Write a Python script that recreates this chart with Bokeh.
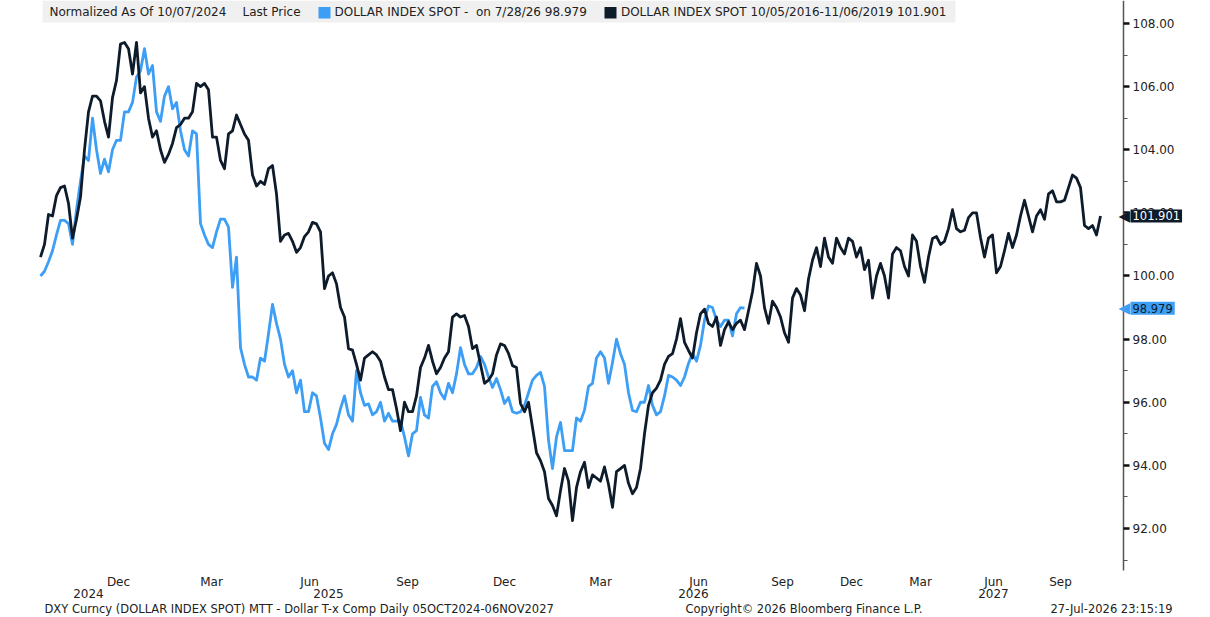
from bokeh.plotting import figure
from bokeh.models import Range1d, FixedTicker, LinearAxis, Label, BoxAnnotation, PrintfTickFormatter
from bokeh.embed import file_html
from bokeh.resources import INLINE

# ---- data (one value per chart step) ----
# DOLLAR INDEX SPOT 10/05/2016-11/06/2019, normalized
black_vals = [100.6, 101.0, 101.95, 101.9, 102.55, 102.8, 102.85, 102.3, 101.2, 101.8,
              102.5, 104.0, 105.2, 105.7, 105.7, 105.55, 104.9, 104.4, 105.65, 106.2,
              107.35, 107.4, 107.2, 106.4, 107.4, 105.8, 106.0, 105.0, 104.4, 104.6,
              104.0, 103.6, 103.85, 104.2, 104.7, 104.8, 105.0, 105.0, 105.2, 106.1,
              106.0, 106.1, 105.9, 104.4, 104.4, 103.66, 103.4, 104.5, 104.6, 105.1,
              104.8, 104.5, 104.3, 103.2, 102.85, 103.0, 102.9, 103.4, 103.5, 102.6,
              101.1, 101.3, 101.35, 101.1, 100.75, 100.9, 101.25, 101.4, 101.7, 101.65,
              101.4, 99.6, 100.0, 100.1, 99.75, 99.0, 98.7, 97.7, 97.65, 97.2,
              96.7, 97.4, 97.5, 97.6, 97.5, 97.3, 96.8, 96.4, 96.4, 95.8,
              95.1, 96.0, 95.7, 95.7, 96.2, 97.1, 97.4, 97.8, 97.3, 96.9,
              97.1, 97.4, 97.6, 98.7, 98.8, 98.7, 98.75, 98.4, 97.7, 97.8,
              97.2, 96.6, 96.7, 96.9, 97.5, 97.85, 97.8, 97.55, 97.16, 97.1,
              95.96, 95.7, 96.0, 95.2, 94.4, 94.15, 93.8, 92.95, 92.73, 92.4,
              93.2, 93.9, 93.5, 92.25, 93.3, 93.8, 94.1, 93.3, 93.7, 93.6,
              93.5, 93.95, 93.4, 92.67, 93.8, 93.9, 94.0, 93.43, 93.1, 93.3,
              93.9, 95.0, 95.9, 96.3, 96.45, 96.7, 97.2, 97.45, 97.54, 98.0,
              98.65, 97.9, 97.64, 97.4, 98.2, 98.8, 98.95, 98.5, 98.4, 98.7,
              97.8, 98.3, 98.55, 98.3, 98.5, 98.6, 98.3, 98.9, 99.5, 100.4,
              100.0, 99.0, 98.5, 99.2, 99.0, 98.7, 98.2, 97.9, 99.3, 99.6,
              99.4, 98.9, 99.9, 100.5, 100.9, 100.3, 101.2, 100.6, 100.4, 101.2,
              100.9, 100.7, 101.2, 101.1, 100.6, 100.9, 100.2, 100.5, 99.3, 100.0,
              100.4, 100.0, 99.3, 100.7, 100.9, 100.8, 100.3, 100.0, 101.3, 101.1,
              100.3, 99.8, 100.6, 101.19, 101.25, 101.0, 101.1, 101.5, 102.1, 101.5,
              101.4, 101.45, 101.85, 102.0, 102.0, 101.22, 100.6, 101.2, 101.3, 100.1,
              100.3, 100.8, 101.35, 100.9, 101.3, 101.9, 102.4, 101.9, 101.4, 101.9,
              102.1, 101.8, 102.6, 102.7, 102.35, 102.35, 102.4, 102.8, 103.2, 103.1,
              102.8, 101.6, 101.5, 101.6, 101.3, 101.901]
# DOLLAR INDEX SPOT (current), normalized as of 10/07/2024
blue_vals = [100.0, 100.15, 100.45, 100.8, 101.3, 101.76, 101.76, 101.66, 101.0, 102.1,
             103.0, 103.8, 103.66, 105.0, 104.0, 103.25, 103.7, 103.3, 104.0, 104.3,
             104.3, 105.2, 105.2, 105.5, 106.3, 106.5, 107.2, 106.4, 106.67, 105.2,
             104.9, 105.7, 106.0, 105.3, 105.5, 104.6, 104.0, 103.8, 104.6, 104.5,
             101.66, 101.3, 101.0, 100.9, 101.4, 101.8, 101.8, 101.55, 99.64, 100.6,
             97.73, 97.2, 96.8, 96.8, 96.7, 97.4, 97.3, 98.17, 99.1, 98.5,
             98.0, 97.2, 96.8, 97.0, 96.3, 96.7, 95.7, 95.7, 96.3, 96.2,
             95.5, 94.7, 94.5, 95.0, 95.3, 95.8, 96.2, 95.6, 95.4, 97.0,
             96.3, 95.9, 95.95, 95.6, 95.7, 96.0, 95.4, 95.65, 95.4, 95.4,
             95.4, 94.9, 94.3, 95.0, 95.1, 96.15, 95.6, 95.5, 96.5, 96.65,
             96.3, 96.1, 96.6, 96.3, 96.9, 97.73, 97.2, 96.9, 96.9, 97.1,
             97.45, 97.2, 96.8, 96.47, 96.75, 96.4, 95.96, 96.15, 95.7, 95.65,
             95.7, 95.9, 96.3, 96.7, 96.85, 96.95, 96.5, 94.8, 93.9, 94.9,
             95.36, 94.47, 94.47, 94.47, 95.5, 95.4, 95.75, 96.5, 96.6, 97.4,
             97.6, 97.4, 96.6, 97.26, 98.0, 97.54, 97.2, 96.3, 95.74, 95.7,
             96.0, 96.0, 96.53, 95.9, 95.6, 95.7, 96.2, 96.85, 96.8, 96.7,
             96.53, 96.8, 97.23, 97.55, 97.3, 97.8, 98.6, 99.05, 99.0, 98.6,
             98.4, 98.6, 98.6, 98.1, 98.8, 99.0, 98.979]
black_x = list(range(len(black_vals)))
blue_x = list(range(len(blue_vals)))

month_labels = ["Dec", "Mar", "Jun", "Sep", "Dec", "Mar", "Jun", "Sep", "Dec", "Mar", "Jun", "Sep"]
month_pos = [19.5, 42.75, 67.25, 91.75, 116.0, 140.0, 164.5, 185.5, 202.75, 220.0, 238.25, 255.0]
year_labels = ["2024", "2025", "2026", "2027"]
year_pos = [12.0, 72.0, 163.25, 238.25]
y_ticks = [92, 94, 96, 98, 100, 102, 104, 106, 108]
y_minor = [91, 93, 95, 97, 99, 101, 103, 105, 107]

BLUE = "#3d9ef5"
NAVY = "#0d1b2a"
FONT = "DejaVu Sans"
TXT = "#222222"

X0, X1 = -10.0, 292.5          # canvas span in step units
Y0, Y1 = 89.180, 108.7287      # canvas span in index units
Y_AXIS_X = 270.75              # where the value axis sits
PLOT_BOTTOM = 90.669           # bottom of the plotting area
YEAR_ROW = 90.131

p = figure(width=1210, height=617, output_backend="svg", toolbar_location=None,
           x_range=Range1d(X0, X1), y_range=Range1d(Y0, Y1),
           y_axis_location="right", min_border=0,
           min_border_left=0, min_border_right=0, min_border_top=0, min_border_bottom=0)
p.grid.visible = False
p.outline_line_color = None
p.background_fill_color = "white"
p.border_fill_color = "white"

# right value axis
ya = p.yaxis[0]
ya.fixed_location = Y_AXIS_X
ya.bounds = (PLOT_BOTTOM, Y1)
ya.ticker = FixedTicker(ticks=y_ticks, minor_ticks=y_minor)
ya.formatter = PrintfTickFormatter(format="%.2f")
ya.axis_line_color = "#555555"
ya.axis_line_width = 1.5
ya.major_tick_out = 6
ya.major_tick_in = 0
ya.major_tick_line_width = 2.5
ya.major_tick_line_color = "#111111"
ya.minor_tick_out = 4
ya.minor_tick_in = 0
ya.minor_tick_line_color = "#555555"
ya.major_label_standoff = 3
ya.major_label_text_font = FONT
ya.major_label_text_font_size = "12px"
ya.major_label_text_color = TXT

# month axis
xa = p.xaxis[0]
xa.fixed_location = PLOT_BOTTOM
xa.ticker = FixedTicker(ticks=month_pos, minor_ticks=[])
xa.major_label_overrides = {pos: lab for pos, lab in zip(month_pos, month_labels)}
xa.axis_line_color = None
xa.major_tick_line_color = None
xa.minor_tick_line_color = None
xa.major_tick_out = 0
xa.minor_tick_out = 0
xa.major_label_standoff = 4
xa.major_label_text_font = FONT
xa.major_label_text_font_size = "12px"
xa.major_label_text_color = TXT

# year axis
yr = LinearAxis(ticker=FixedTicker(ticks=year_pos, minor_ticks=[]),
                major_label_overrides={pos: lab for pos, lab in zip(year_pos, year_labels)},
                fixed_location=YEAR_ROW,
                axis_line_color=None, major_tick_line_color=None, minor_tick_line_color=None,
                major_tick_out=0, minor_tick_out=0,
                major_label_standoff=2, major_label_text_font=FONT,
                major_label_text_font_size="12px", major_label_text_color=TXT)
p.add_layout(yr, "below")

# series
p.line(blue_x, blue_vals, line_color=BLUE, line_width=2.8, line_join="round")
p.line(black_x, black_vals, line_color=NAVY, line_width=2.8, line_join="round")

# legend strip
p.add_layout(BoxAnnotation(left=0.5, right=228.75, top=Y1, bottom=108.032,
                           fill_color="#f0f0f0", fill_alpha=1.0, line_color=None))
ly = 108.38
def lab(x, text, color=TXT):
    p.add_layout(Label(x=x, y=ly, text=text, text_font=FONT, text_font_size="12px",
                       text_color=color, text_baseline="middle"))
lab(2.25, "Normalized As Of 10/07/2024")
lab(50.5, "Last Price")
p.add_layout(BoxAnnotation(left=69.5, right=72.5, top=108.523, bottom=108.158,
                           fill_color=BLUE, fill_alpha=1.0, line_color=None))
lab(73.5, "DOLLAR INDEX SPOT -\u00a0 on 7/28/26 %.3f" % blue_vals[-1])
p.add_layout(BoxAnnotation(left=141.0, right=144.0, top=108.523, bottom=108.158,
                           fill_color=NAVY, fill_alpha=1.0, line_color=None))
lab(145.1, "DOLLAR INDEX SPOT 10/05/2016-11/06/2019 %.3f" % black_vals[-1])

# last-value tags on the axis
for val, bg, fg in [(black_vals[-1], NAVY, "white"), (blue_vals[-1], BLUE, NAVY)]:
    p.add_layout(Label(x=272.4, y=val, text="\u25c0", text_font=FONT, text_font_size="15px",
                       text_color=bg, text_baseline="middle", text_align="right"))
    p.add_layout(Label(x=272.5, y=val, text="%.3f" % val, text_font=FONT, text_font_size="11.5px",
                       text_color=fg, text_baseline="middle", background_fill_color=bg,
                       padding=2))

# footer
fy = 89.66
for fx, t in [(1.0, "DXY Curncy (DOLLAR INDEX SPOT) MTT - Dollar T-x Comp Daily 05OCT2024-06NOV2027"),
              (161.25, "Copyright\u00a9 2026 Bloomberg Finance L.P."),
              (252.5, "27-Jul-2026 23:15:19")]:
    p.add_layout(Label(x=fx, y=fy, text=t, text_font=FONT, text_font_size="11.5px",
                       text_color=TXT, text_baseline="top"))

open("out.html", "w").write(file_html(p, INLINE))
